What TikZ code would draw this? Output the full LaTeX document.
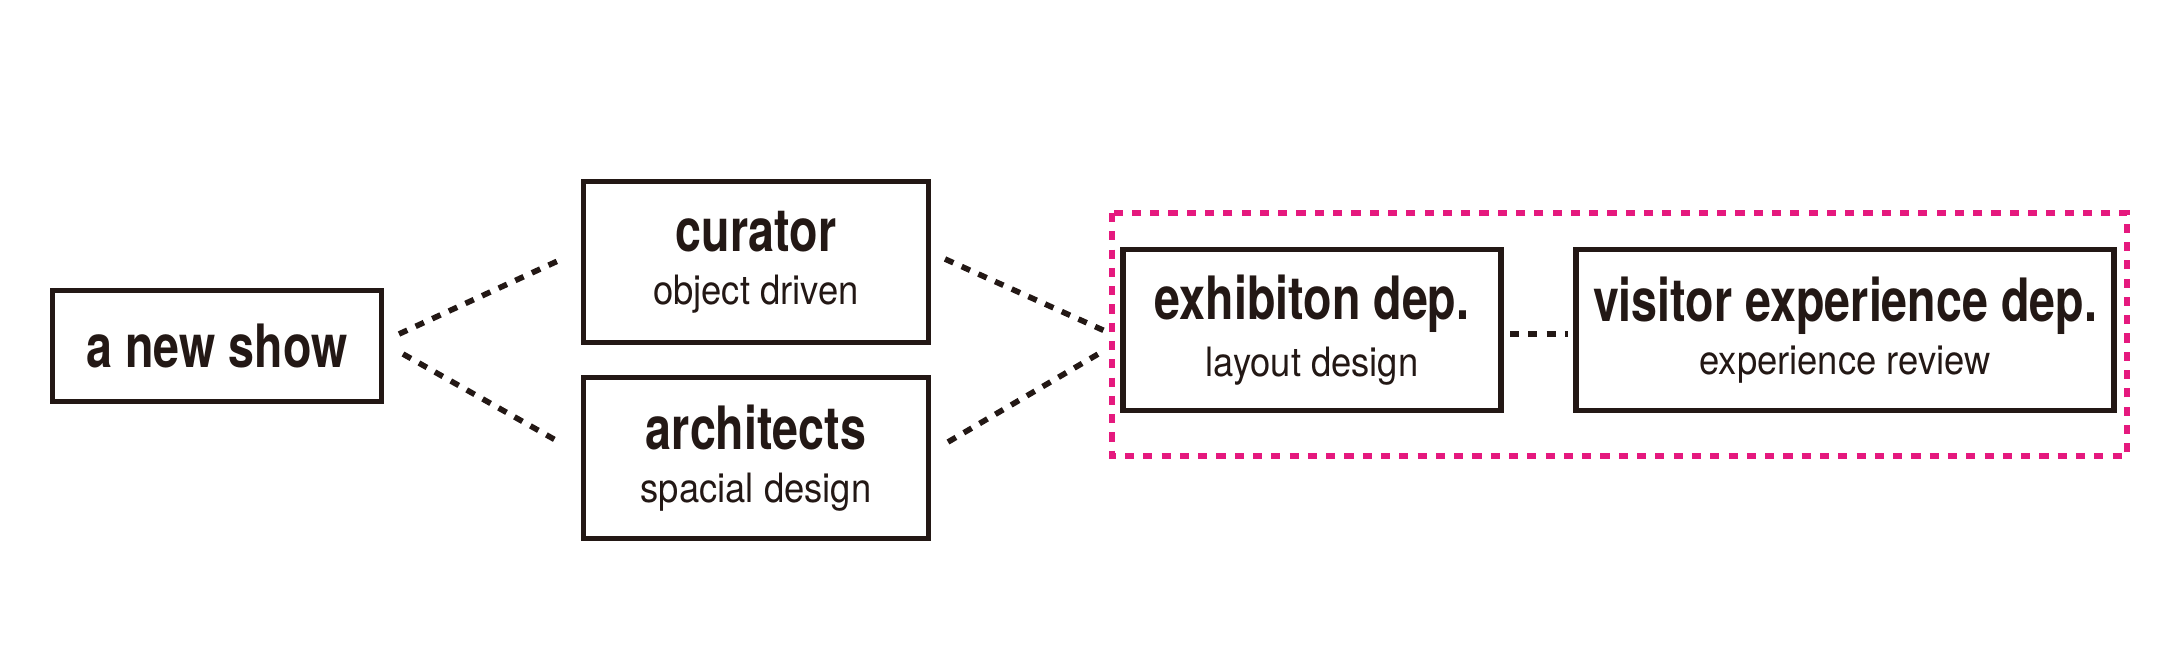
\documentclass[tikz,border=0pt]{standalone}
\usepackage{fontspec}
\setmainfont{TeX Gyre Heros}
\newfontfamily\condbold[FakeStretch=0.78]{TeX Gyre Heros Bold}
\newfontfamily\condreg[FakeStretch=0.9]{TeX Gyre Heros}
\usetikzlibrary{positioning}
\definecolor{boxline}{HTML}{231815}
\definecolor{groupline}{HTML}{E5197E}
\tikzset{
  rolebox/.style={draw=boxline, line width=1.6pt, inner sep=0pt, align=center, text=boxline},
  link/.style={draw=boxline, line width=1.6pt, dash pattern=on 2.6pt off 2.6pt},
}
\newcommand{\roletext}[2]{{\condbold\fontsize{17}{20}\selectfont #1}\\[3pt]{\condreg\fontsize{11.5}{14}\selectfont #2}}
\begin{document}
\begin{tikzpicture}[x=0.01cm,y=-0.01cm]
  \useasboundingbox (0,0) rectangle (2180,660);
  \node[rolebox, minimum width=3.29cm, minimum height=1.11cm] (show) at (217,346) {\condbold\fontsize{17}{20}\selectfont a new show};
  \node[rolebox, minimum width=3.45cm, minimum height=1.61cm] (curator) at (756,262) {\roletext{curator}{object driven}};
  \node[rolebox, minimum width=3.45cm, minimum height=1.61cm] (architects) at (756,458) {\roletext{architects}{spacial design}};
  \node[rolebox, minimum width=3.78cm, minimum height=1.61cm] (exhib) at (1312,330) {\roletext{exhibiton dep.}{layout design}};
  \node[rolebox, minimum width=5.38cm, minimum height=1.61cm] (visitor) at (1845,330) {\roletext{visitor experience dep.}{experience review}};
  \draw[groupline, line width=1.6pt, dash pattern=on 2.6pt off 2.6pt] (1112,213) rectangle (2127,456);
  % connectors
  \coordinate (s1) at (399,334);
  \coordinate (s2) at (403,354);
  \coordinate (c1) at (562,259);
  \coordinate (a1) at (559,442);
  \coordinate (c2) at (945,259);
  \coordinate (a2) at (948,442);
  \coordinate (e1) at (1105,331);
  \coordinate (e2) at (1105,350);
  \coordinate (e3) at (1510,334);
  \coordinate (v1) at (1568,334);
  \draw[link] (s1) -- (c1);
  \draw[link] (s2) -- (a1);
  \draw[link] (c2) -- (e1);
  \draw[link] (a2) -- (e2);
  \draw[link] (e3) -- (v1);
\end{tikzpicture}
\end{document}
